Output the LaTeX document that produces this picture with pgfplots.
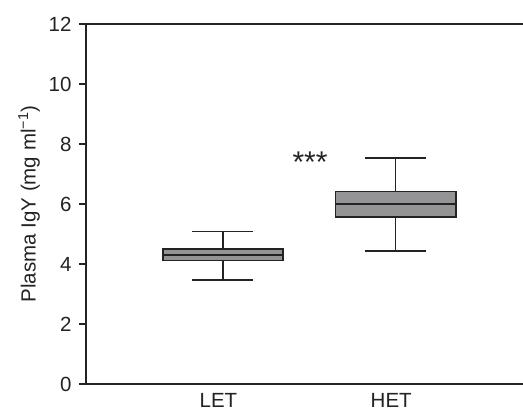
\documentclass[border=0pt]{standalone}
\usepackage{pgfplots}
\pgfplotsset{compat=1.18}
\usepgfplotslibrary{statistics}
\usepackage{fontspec}
\setmainfont{Liberation Sans}
\definecolor{boxgray}{RGB}{148,148,150}
\definecolor{ink}{RGB}{35,35,35}
\begin{document}
\begin{tikzpicture}
\begin{axis}[
  name=ax,
  scale only axis,
  width=437pt, height=360pt,
  xmin=0.207, xmax=2.737,
  ymin=0, ymax=12,
  axis x line=box, axis y line=left,
  axis line style={-, line width=1.4pt, draw=ink},
  ytick={0,2,4,6,8,10,12},
  xtick={1,2}, xticklabels={LET,HET},
  x tick style={draw=none},
  y tick style={line width=1.3pt, draw=ink},
  tick align=outside,
  major tick length=7pt,
  /pgf/number format/assume math mode=true,
  tick label style={font=\fontsize{20.5}{22}\selectfont, text=ink},
  yticklabel style={xshift=-4pt},
  xticklabel style={xshift=-4.5pt, yshift=1.5pt},
  ylabel={Plasma IgY (mg ml\textsuperscript{−1})},
  ylabel style={font=\fontsize{20.5}{24}\selectfont, text=ink},
  ylabel shift=2pt,
  clip=false,
  boxplot/draw direction=y,
  boxplot/every box/.style={draw=ink, fill=boxgray, line width=1.6pt},
  boxplot/every whisker/.style={draw=ink, line width=1.5pt},
  boxplot/every median/.style={draw=ink, line width=1.6pt},
]
\addplot+[fill=boxgray, draw=ink, line width=1.5pt, mark=none,
  boxplot prepared={median=4.29, upper quartile=4.49, lower quartile=4.11,
    upper whisker=5.08, lower whisker=3.47, draw position=1,
    box extend=0.695, whisker extend=0.353}] coordinates {};
\addplot+[fill=boxgray, draw=ink, line width=1.5pt, mark=none,
  boxplot prepared={median=5.99, upper quartile=6.41, lower quartile=5.57,
    upper whisker=7.54, lower whisker=4.43, draw position=2,
    box extend=0.695, whisker extend=0.353}] coordinates {};
\node[anchor=north, inner sep=0pt, font=\fontsize{30}{30}\selectfont, text=ink] at (axis cs:1.504,7.74) {***};
\end{axis}
\pgfresetboundingbox
\useasboundingbox ([xshift=-86pt,yshift=-27pt]ax.south west) rectangle ([yshift=24pt]ax.north east);
\end{tikzpicture}
\end{document}
